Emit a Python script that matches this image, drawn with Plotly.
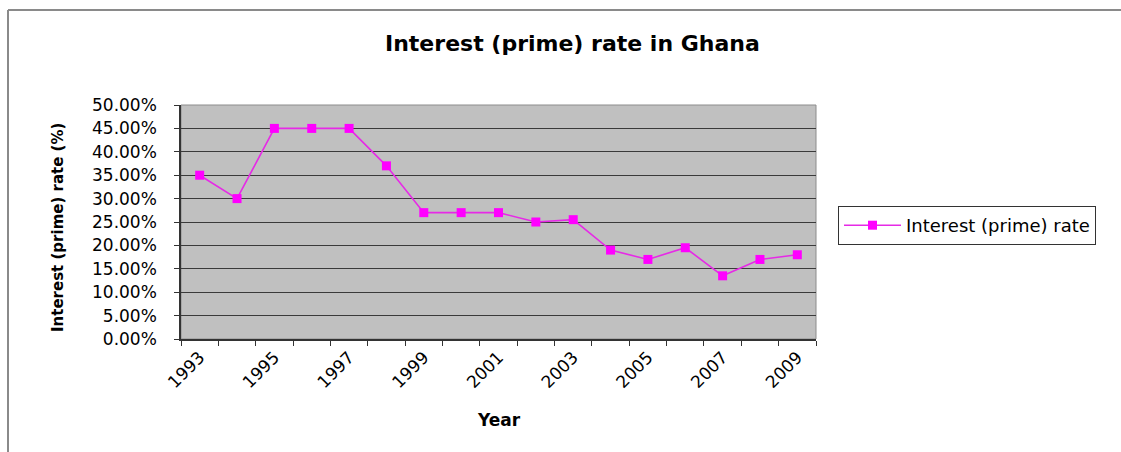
import plotly.graph_objects as go

# Ghana prime lending rate, 1993-2009 (fraction of 1)
years = [1993, 1994, 1995, 1996, 1997, 1998, 1999, 2000, 2001,
         2002, 2003, 2004, 2005, 2006, 2007, 2008, 2009]
prime_rate = [0.35, 0.30, 0.45, 0.45, 0.45, 0.37, 0.27, 0.27, 0.27,
              0.25, 0.255, 0.19, 0.17, 0.195, 0.135, 0.17, 0.18]
label_years = [1993, 1995, 1997, 1999, 2001, 2003, 2005, 2007, 2009]

series_name = "Interest (prime) rate"
chart_title = "Interest (prime) rate in Ghana"
x_title = "Year"
y_title = "Interest (prime) rate (%)"

FONT = "DejaVu Sans, Arial, sans-serif"
W, H = 1121, 452
L, R, T, B = 181, 305, 105, 113
PW, PH = W - L - R, H - T - B


def px_x(px):
    return (px - L) / PW


def px_y(py):
    return (H - B - py) / PH


fig = go.Figure()
fig.add_trace(go.Scatter(
    x=years, y=prime_rate, name=series_name, mode="lines+markers",
    line=dict(color="#E62AE6", width=1.6),
    marker=dict(symbol="square", size=9, color="#FF00FF",
                line=dict(width=0)),
))

fig.update_layout(
    width=W, height=H,
    margin=dict(l=L, r=R, t=T, b=B, autoexpand=False),
    paper_bgcolor="white",
    plot_bgcolor="#C0C0C0",
    font=dict(family=FONT, color="black"),
    showlegend=True,
    legend=dict(
        x=px_x(838), y=px_y(206), xanchor="left", yanchor="top",
        bgcolor="white", bordercolor="#333333", borderwidth=1,
        font=dict(size=18, family=FONT),
        itemwidth=57,
    ),
    xaxis=dict(
        range=[1992.5, 2009.5], tickmode="array", tickvals=label_years,
        ticktext=[str(y) for y in label_years], tickangle=-45,
        ticks="", showgrid=False, zeroline=False,
        showline=True, linecolor="#333333", linewidth=1.5,
        tickfont=dict(size=17, family=FONT),
        minor=dict(tick0=1992.5, dtick=1, ticks="outside", ticklen=5,
                   tickcolor="#333333", tickwidth=1, showgrid=False),
    ),
    yaxis=dict(
        range=[0, 0.5], dtick=0.05, tick0=0, tickformat=".2%",
        ticks="outside", ticklen=5, tickcolor="#333333",
        showgrid=True, gridcolor="#3A3A3A", gridwidth=1,
        zeroline=False, showline=True, linecolor="#333333", linewidth=1.5,
        tickfont=dict(size=17, family=FONT), ticklabelstandoff=14,
    ),
    shapes=[
        # light border around the plot area
        dict(type="rect", xref="paper", yref="paper", x0=0, x1=1, y0=0, y1=1,
             line=dict(color="#8C8C8C", width=1), layer="below"),
        # chart-area frame (top and left edges)
        dict(type="line", xref="paper", yref="paper",
             x0=px_x(8), x1=px_x(W + 2), y0=px_y(10), y1=px_y(10),
             line=dict(color="#8A8A8A", width=2)),
        dict(type="line", xref="paper", yref="paper",
             x0=px_x(8), x1=px_x(8), y0=px_y(10), y1=px_y(H + 2),
             line=dict(color="#8A8A8A", width=2)),
    ],
    annotations=[
        dict(text="<b>%s</b>" % chart_title, xref="paper", yref="paper",
             x=px_x(572), y=px_y(43), xanchor="center", yanchor="middle",
             showarrow=False, font=dict(size=22, family=FONT)),
        dict(text="<b>%s</b>" % x_title, xref="paper", yref="paper",
             x=px_x(499), y=px_y(420), xanchor="center", yanchor="middle",
             showarrow=False, font=dict(size=17, family=FONT)),
        dict(text="<b>%s</b>" % y_title, xref="paper", yref="paper",
             x=px_x(58), y=px_y(228), xanchor="center", yanchor="middle",
             textangle=-90, showarrow=False, font=dict(size=15, family=FONT)),
    ],
)

fig.write_html("out.html")
